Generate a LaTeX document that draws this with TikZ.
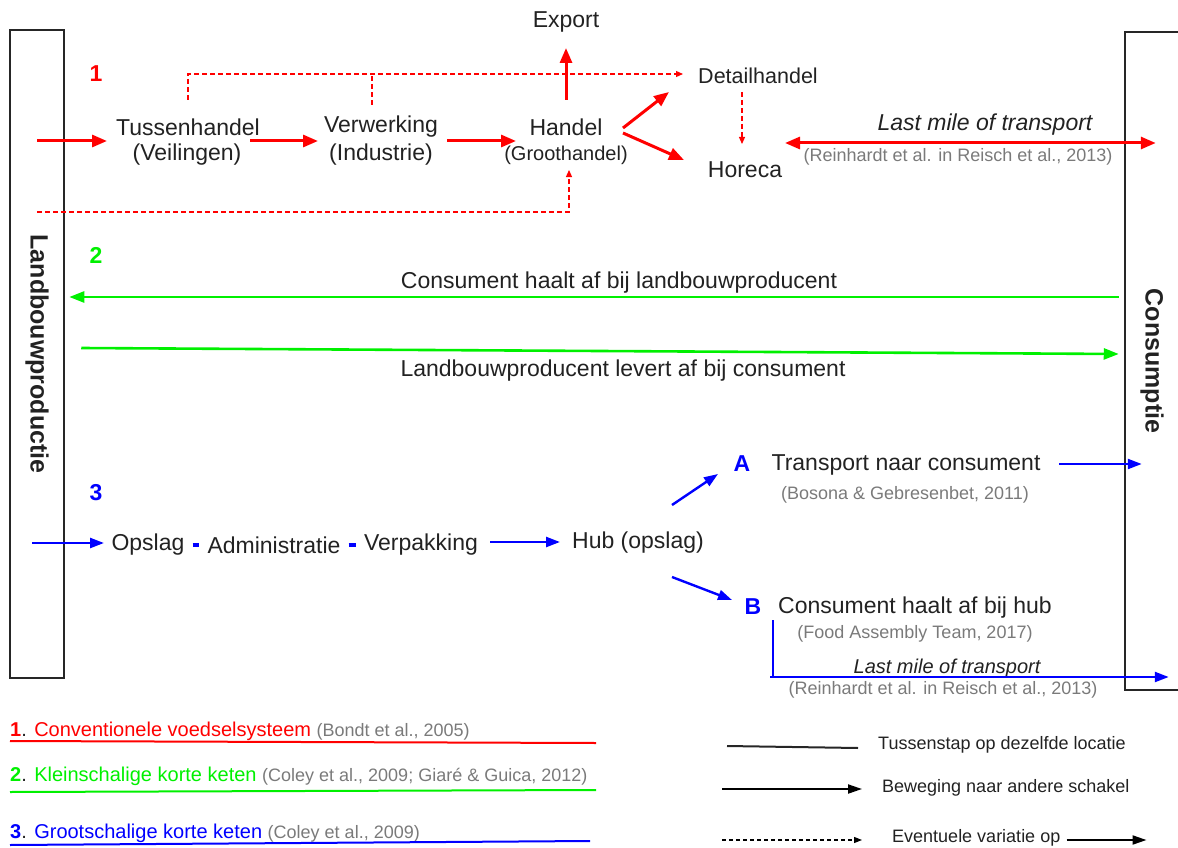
\documentclass[tikz,border=0pt]{standalone}
\usepackage{fontspec}
\setmainfont{Liberation Sans}
\usetikzlibrary{arrows.meta}
\definecolor{txt}{HTML}{222222}
\definecolor{cit}{HTML}{7A7A7A}
\definecolor{rd}{HTML}{FF0000}
\definecolor{gn}{HTML}{00F000}
\definecolor{bl}{HTML}{0000FF}
\begin{document}
\begin{tikzpicture}[x=1pt,y=-1pt,
  every node/.style={inner sep=0pt,text=txt},
  lbl/.style={font=\fontsize{23}{26}\selectfont},
  sub/.style={font=\fontsize{20}{24}\selectfont},
  cite/.style={font=\fontsize{18}{20}\selectfont,text=cit},
  num/.style={font=\fontsize{23}{25}\selectfont\bfseries},
  legtxt/.style={font=\fontsize{18}{20}\selectfont,anchor=west},
  legtitle/.style={font=\fontsize{20}{22}\selectfont,anchor=west},
  bartxt/.style={font=\fontsize{25}{27}\selectfont\bfseries,rotate=-90},
  bar/.style={draw=black!85,line width=2.5pt,minimum width=54pt,minimum height=648pt},
  redarr/.style={draw=rd,line width=3pt,-{Triangle[length=15pt,width=12pt]}},
  reddbl/.style={draw=rd,line width=3pt,{Triangle[length=15pt,width=12pt]}-{Triangle[length=15pt,width=12pt]}},
  reddash/.style={draw=rd,line width=1.2pt,dash pattern=on 5pt off 3pt,-{Triangle[length=7pt,width=6pt]}},
  reddashline/.style={draw=rd,line width=1.2pt,dash pattern=on 5pt off 3pt},
  grarr/.style={draw=gn,line width=2.6pt,-{Triangle[length=15pt,width=11pt]}},
  bluarr/.style={draw=bl,line width=2.4pt,-{Triangle[length=14pt,width=10pt]}},
  bluline/.style={draw=bl,line width=2.4pt},
  bludash/.style={draw=bl,line width=3.5pt,shorten <=8pt,shorten >=8pt},
  legline/.style={draw=black!85,line width=2pt},
  legarr/.style={draw=black,line width=2pt,-{Triangle[length=14pt,width=9pt]}},
  legdash/.style={draw=black,line width=1.1pt,dash pattern=on 4pt off 3pt,-{Triangle[length=8pt,width=6pt]}}
]
\useasboundingbox (0,0) rectangle (1178,848);

% bars
\node[bar] (prod) at (37,354) {};
\node[bartxt] at (prod.center) {Landbouwproductie};
\node[bar,minimum width=56pt,minimum height=658pt] (cons) at (1153,361) {};
\node[bartxt] at (1152,361) {Consumptie};

% ---------- 1: red ----------
\node[num,text=rd] (n1) at (96,74) {1};
\node[lbl] (tus1) at (188,127) {Tussenhandel};
\node[lbl] (tus2) at (187,155) {(Veilingen)};
\node[lbl] (ver1) at (381,127) {Verwerking};
\node[lbl] (ver2) at (381,155) {(Industrie)};
\node[lbl] (han1) at (566,127) {Handel};
\node[sub] (han2) at (566,155) {(Groothandel)};
\node[lbl] (exp) at (566,22) {Export};
\node[font=\fontsize{21.5}{24}\selectfont] (det) at (758,76) {Detailhandel};
\node[lbl] (hor) at (745,170) {Horeca};
\node[lbl,font=\fontsize{23}{26}\selectfont\itshape] (lm1) at (985,125) {Last mile of transport};
\node[cite] (c1) at (958,157) {(Reinhardt et al. in Reisch et al., 2013)};

\coordinate (r1s) at (37,141);
\coordinate (r2s) at (37,212);
\draw[redarr] (r1s) -- ([shift={(-81,14)}]tus1.center);
\draw[redarr] ([shift={(62,14)}]tus1.center) -- ([shift={(-63,14)}]ver1.center);
\draw[redarr] ([shift={(66,14)}]ver1.center) -- ([shift={(-50,14)}]han1.center);
\draw[redarr] ([shift={(0,-27)}]han1.center) -- ([shift={(0,26)}]exp.center);
\draw[redarr] ([shift={(57,1)}]han1.center) -- ([shift={(-89,16)}]det.center);
\draw[redarr] ([shift={(57,6)}]han1.center) -- ([shift={(-61,-10)}]hor.center);
\draw[reddash] ([shift={(0,-27)}]tus1.center) |- ([shift={(-75,-2)}]det.center);
\draw[reddashline] ([shift={(-9,-22)}]ver1.center) -- ++(0,-31);
\draw[reddash] ([shift={(-16,16)}]det.center) -- ([shift={(-3,-26)}]hor.center);
\draw[reddash] (r2s) -| ([shift={(3,15)}]han2.center);
\draw[reddbl] ([shift={(40,-27)}]hor.center) -- ([shift={(32,-218)}]cons.west);

% ---------- 2: green ----------
\node[num,text=gn] (n2) at (96,255) {2};
\node[lbl] (g1) at (619,283) {Consument haalt af bij landbouwproducent};
\node[lbl] (g2) at (623,371) {Landbouwproducent levert af bij consument};
\draw[grarr] ([shift={(-5,-64)}]cons.west) -- ([shift={(4,-57)}]prod.east);
\draw[grarr] ([shift={(16,-6)}]prod.east) -- ([shift={(-5,-7)}]cons.west);

% ---------- 3: blue ----------
\node[num,text=bl] (n3) at (96,493) {3};
\node[lbl] (ops) at (148,545) {Opslag};
\node[lbl] (adm) at (274,545) {Administratie};
\node[lbl] (verp) at (421,545) {Verpakking};
\node[lbl] (hub) at (638,543) {Hub (opslag)};
\node[num,text=bl] (nA) at (742,464) {A};
\node[lbl] (tA) at (906,465) {Transport naar consument};
\node[cite] (cA) at (905,495) {(Bosona \& Gebresenbet, 2011)};
\node[num,text=bl] (nB) at (753,607) {B};
\node[lbl] (tB) at (915,608) {Consument haalt af bij hub};
\node[cite] (cB) at (915,634) {(Food Assembly Team, 2017)};
\node[font=\fontsize{20}{22}\selectfont\itshape] (lm2) at (947,668) {Last mile of transport};
\node[cite] (c2) at (943,690) {(Reinhardt et al. in Reisch et al., 2013)};

\coordinate (b1s) at (32,543);
\draw[bluarr] (b1s) -- ([shift={(-44,-2)}]ops.center);
\draw[bludash] (ops.east) -- (adm.west);
\draw[bludash] (adm.east) -- (verp.west);
\draw[bluarr] ([shift={(69,-3)}]verp.center) -- ([shift={(-78,-1)}]hub.center);
\draw[bluarr] ([shift={(34,-38)}]hub.center) -- ([shift={(-24,10)}]nA.center);
\draw[bluarr] ([shift={(34,34)}]hub.center) -- ([shift={(-21,-7)}]nB.center);
\draw[bluarr] ([shift={(153,-1)}]tA.center) -- ([shift={(18,103)}]cons.west);
\draw[bluline] ([shift={(20,13)}]nB.center) -- ++(0,57);
\draw[bluarr] ([shift={(17,70)}]nB.center) -- ([shift={(45,316)}]cons.west);

% ---------- legend ----------
\node[legtitle] (leg1) at (10,731) {\textcolor{rd}{\bfseries 1}. \textcolor{rd}{Conventionele voedselsysteem} {\fontsize{18}{20}\selectfont\color{cit}(Bondt et al., 2005)}};
\draw[draw=rd,line width=2pt] ([shift={(0,10)}]leg1.west) -- ++(586,2);
\node[legtitle] (leg2) at (10,776) {\textcolor{gn}{\bfseries 2}. \textcolor{gn}{Kleinschalige korte keten} {\fontsize{18}{20}\selectfont\color{cit}(Coley et al., 2009; Giaré \& Guica, 2012)}};
\draw[draw=gn,line width=2pt] ([shift={(0,16)}]leg2.west) -- ++(586,-2);
\node[legtitle] (leg3) at (10,833) {\textcolor{bl}{\bfseries 3}. \textcolor{bl}{Grootschalige korte keten} {\fontsize{18}{20}\selectfont\color{cit}(Coley et al., 2009)}};
\draw[draw=bl,line width=2pt] ([shift={(0,12)}]leg3.west) -- ++(580,-4);

\node[legtxt] (lt1) at (878,745) {Tussenstap op dezelfde locatie};
\draw[legline] ([shift={(-151,1)}]lt1.west) -- ([shift={(-20,3)}]lt1.west);
\node[legtxt] (lt2) at (882,788) {Beweging naar andere schakel};
\draw[legarr] ([shift={(-160,1)}]lt2.west) -- ([shift={(-20,1)}]lt2.west);
\node[legtxt] (lt3) at (892,838) {Eventuele variatie op};
\draw[legdash] ([shift={(-170,2)}]lt3.west) -- ([shift={(-30,2)}]lt3.west);
\draw[legarr] ([shift={(6,2)}]lt3.east) -- ([shift={(86,2)}]lt3.east);
\end{tikzpicture}
\end{document}
